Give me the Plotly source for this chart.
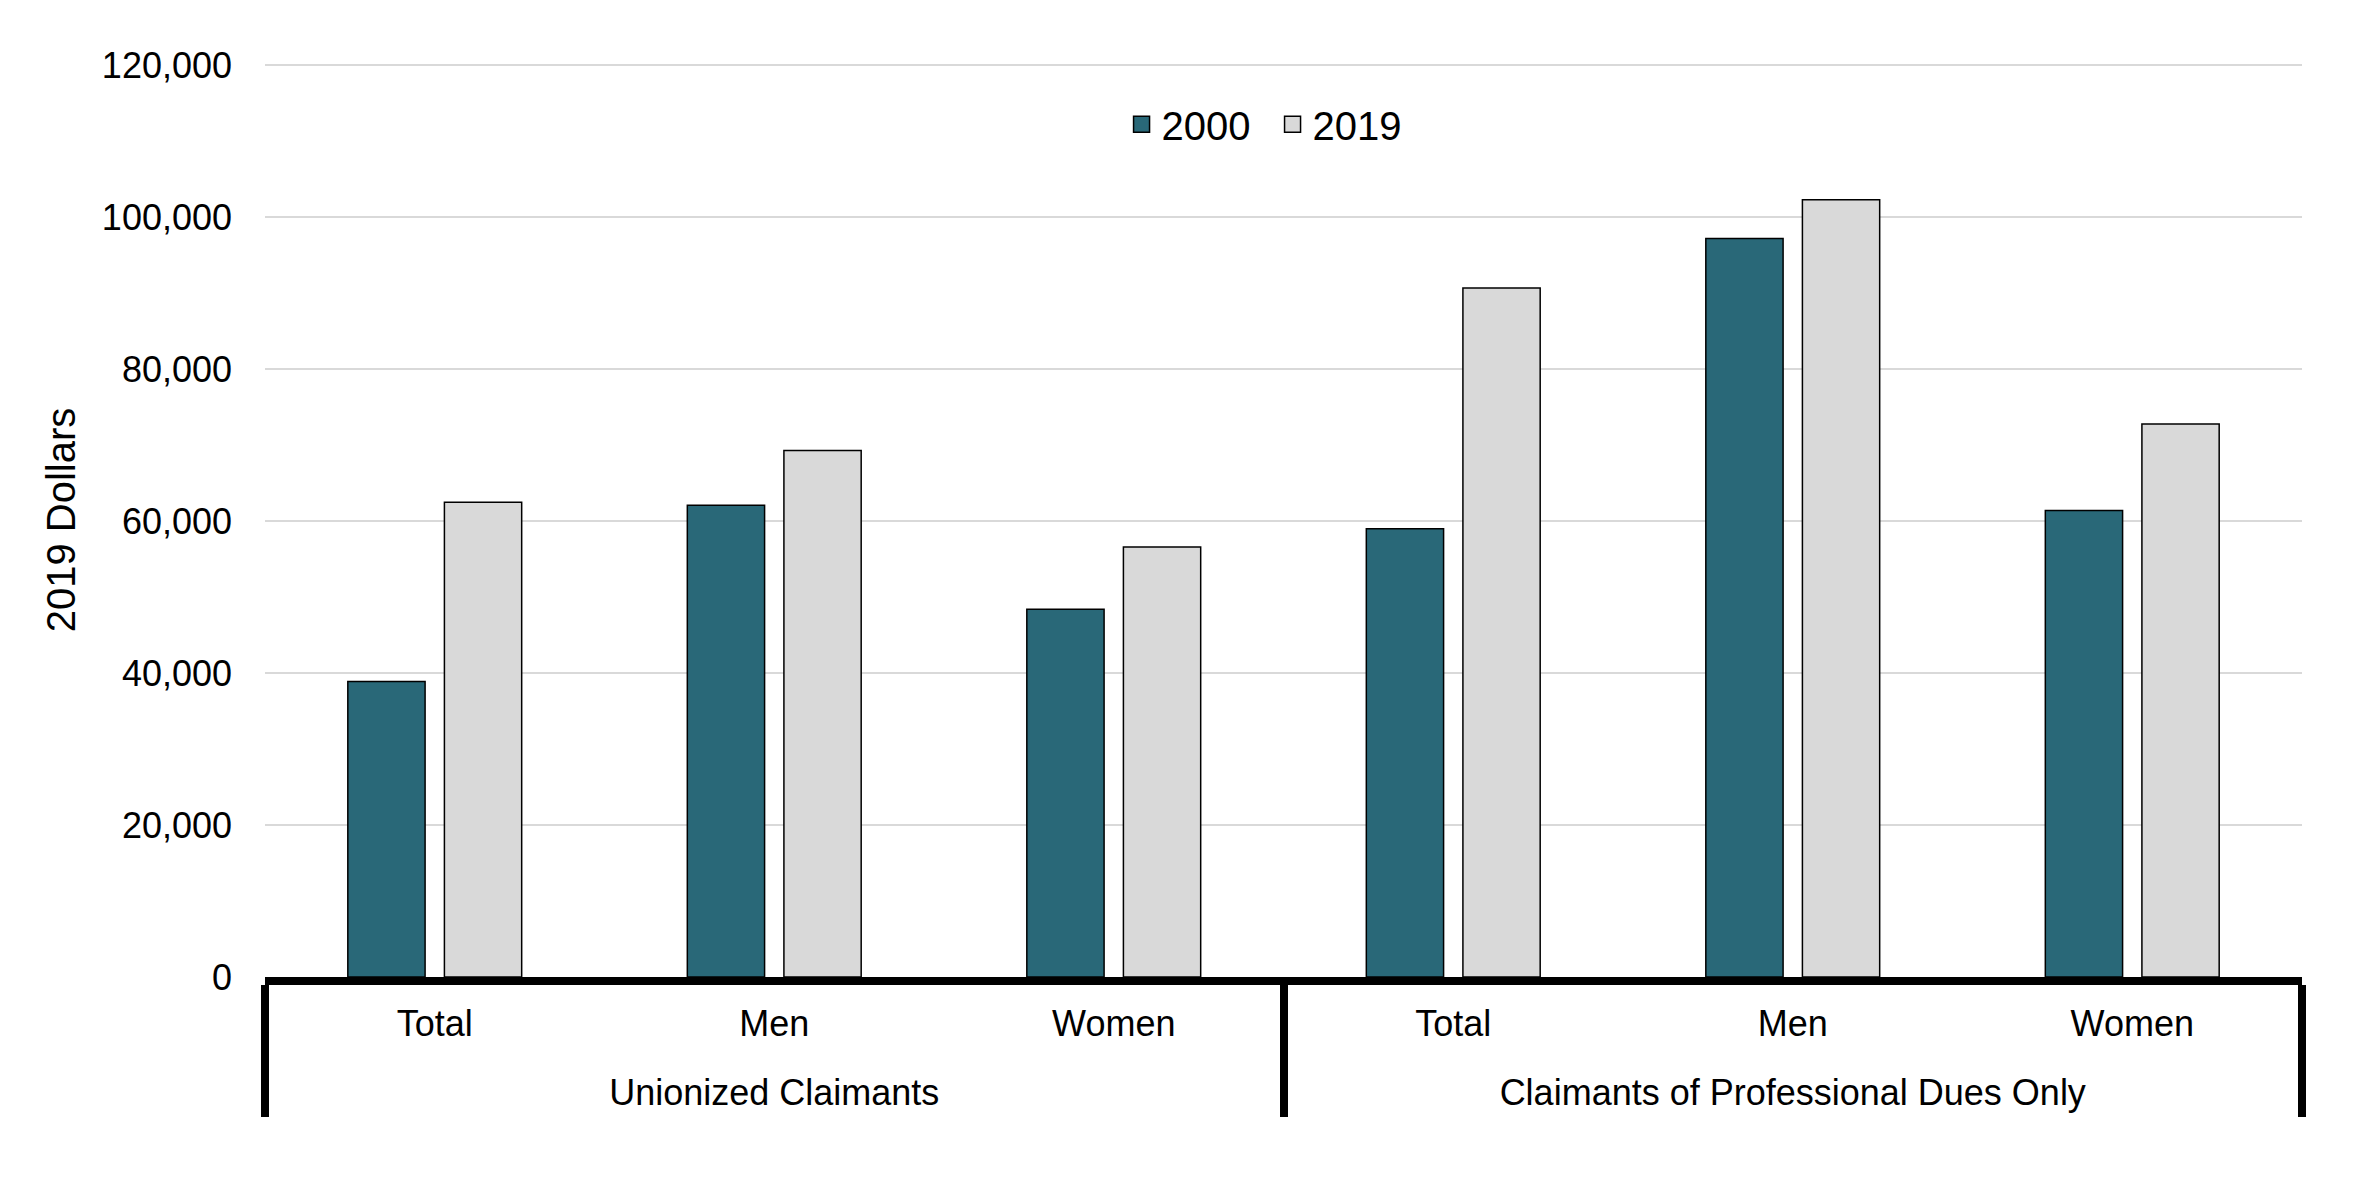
import plotly.graph_objects as go

groups = ["Unionized Claimants"] * 3 + ["Claimants of Professional Dues Only"] * 3
subcats = ["Total", "Men", "Women", "Total", "Men", "Women"]
series_names = ["2000", "2019"]
values_2000 = [38900, 62100, 48400, 59000, 97200, 61400]
values_2019 = [62500, 69300, 56600, 90700, 102300, 72800]
colors = ["#296878", "#D9D9D9"]
y_ticks = [0, 20000, 40000, 60000, 80000, 100000, 120000]

FONT = "Arial, 'Liberation Sans', sans-serif"
LABEL_PX = 36
BASE_TICK = 30.6  # controls the gap between the two label rows


def lab(t):
    return f"<span style='font-size:{LABEL_PX}px'>{t}</span>"


def lab2(t):
    return (f"<span style='font-size:1px'>\u00a0</span><br>"
            f"<span style='font-size:{LABEL_PX}px'>{t}</span>")


x_levels = [[lab2(g) for g in groups], [lab(s) for s in subcats]]

fig = go.Figure()
for name, vals, col in zip(series_names, [values_2000, values_2019], colors):
    fig.add_trace(go.Bar(
        x=x_levels, y=vals, name=name,
        marker=dict(color=col, line=dict(color="#000000", width=1.5)),
        showlegend=False,
    ))
    fig.add_trace(go.Scatter(
        x=[[x_levels[0][0]], [x_levels[1][0]]], y=[None], name=name, mode="markers",
        marker=dict(symbol="square", size=16, color=col,
                    line=dict(color="#000000", width=1.5)),
        showlegend=True, hoverinfo="skip",
    ))

fig.update_layout(
    width=2354, height=1173,
    margin=dict(l=257, r=60, t=55, b=204),
    paper_bgcolor="white", plot_bgcolor="white",
    barmode="group", bargap=0.431, bargroupgap=0.2,
    font=dict(family=FONT, size=36, color="#000000"),
    legend=dict(
        orientation="h", x=0.4205, xanchor="left", y=0.933, yanchor="middle",
        font=dict(size=40, family=FONT), itemsizing="trace",
        entrywidth=106, bgcolor="rgba(0,0,0,0)",
    ),
)
fig.update_yaxes(
    range=[0, 120300], tickvals=y_ticks, tickformat=",",
    showgrid=True, gridcolor="#D9D9D9", gridwidth=1.5,
    zeroline=False, showline=False, ticks="",
    tickfont=dict(size=36, family=FONT),
    ticklabelstandoff=32,
    title=dict(text="2019 Dollars", font=dict(size=40, family=FONT), standoff=13),
)
fig.update_xaxes(
    type="multicategory",
    showline=True, linewidth=8, linecolor="#000000",
    showdividers=True, dividerwidth=8, dividercolor="#000000",
    ticks="", showgrid=False, zeroline=False,
    tickfont=dict(size=BASE_TICK, family=FONT),
    ticklabelstandoff=14,
)

fig.write_html("out.html")
